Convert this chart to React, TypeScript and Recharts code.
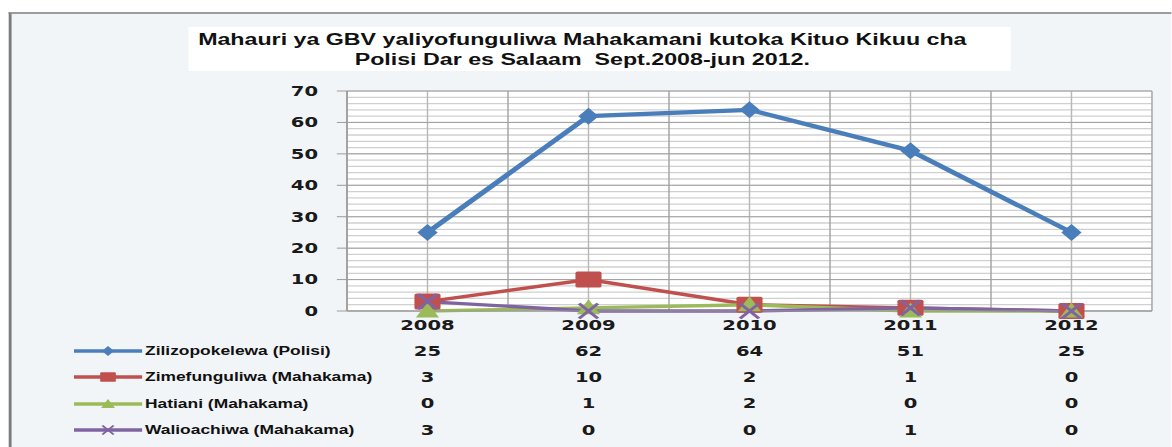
import { LineChart, Line, XAxis, YAxis, CartesianGrid } from "recharts";

// the reference picture is stretched sideways, so the whole chart is drawn narrow and widened
const STRETCH = 1.45;
const W = 1172 / STRETCH;
const H = 447;
const PLOT = { left: 347 / STRETCH, right: 1152 / STRETCH, top: 91, bottom: 311 };
const PAD = (PLOT.right - PLOT.left) / 10;

const years = ["2008", "2009", "2010", "2011", "2012"];
const zilizopokelewa = [25, 62, 64, 51, 25];
const zimefunguliwa = [3, 10, 2, 1, 0];
const hatiani = [0, 1, 2, 0, 0];
const walioachiwa = [3, 0, 0, 1, 0];

const Y_MAX = 70;
const yTicks = [0, 10, 20, 30, 40, 50, 60, 70];
const minorY = Array.from({ length: 36 }, (_, i) => i * 2);

const titleLines = [
  "Mahauri ya GBV yaliyofunguliwa Mahakamani kutoka Kituo Kikuu cha",
  "Polisi Dar es Salaam  Sept.2008-jun 2012.",
];

type Shape = "diamond" | "square" | "triangle" | "x";

const series: { key: string; name: string; color: string; shape: Shape; values: number[]; width: number }[] = [
  { key: "zilizopokelewa", name: "Zilizopokelewa (Polisi)", color: "#4a7ebb", shape: "diamond", values: zilizopokelewa, width: 4.2 },
  { key: "zimefunguliwa", name: "Zimefunguliwa (Mahakama)", color: "#c0504d", shape: "square", values: zimefunguliwa, width: 3.4 },
  { key: "hatiani", name: "Hatiani (Mahakama)", color: "#9bbb59", shape: "triangle", values: hatiani, width: 3.4 },
  { key: "walioachiwa", name: "Walioachiwa (Mahakama)", color: "#8064a2", shape: "x", values: walioachiwa, width: 3.4 },
];

const data = years.map((year, i) => {
  const row: Record<string, string | number> = { year };
  series.forEach((s) => (row[s.key] = s.values[i]));
  return row;
});

const numFont = { fontFamily: "'DejaVu Sans', Verdana, sans-serif", fontWeight: 700, fontSize: 13.5, fill: "#1a1a1a" };

function Marker({ shape, cx, cy, color, k = 1 }: { shape: Shape; cx: number; cy: number; color: string; k?: number }) {
  if (shape === "diamond") {
    return (
      <polygon
        points={`${cx},${cy - 8.5 * k} ${cx + 7 * k},${cy} ${cx},${cy + 8.5 * k} ${cx - 7 * k},${cy}`}
        fill={color}
      />
    );
  }
  if (shape === "square") {
    return <rect x={cx - 9 * k} y={cy - 8 * k} width={18 * k} height={16 * k} rx={1.5 * k} fill={color} />;
  }
  if (shape === "triangle") {
    return <polygon points={`${cx},${cy - 8.5 * k} ${cx + 8 * k},${cy + 6.5 * k} ${cx - 8 * k},${cy + 6.5 * k}`} fill={color} />;
  }
  return (
    <g stroke={color} strokeWidth={2.6 * k}>
      <line x1={cx - 6.5 * k} y1={cy - 7.5 * k} x2={cx + 6.5 * k} y2={cy + 7.5 * k} />
      <line x1={cx - 6.5 * k} y1={cy + 7.5 * k} x2={cx + 6.5 * k} y2={cy - 7.5 * k} />
    </g>
  );
}

function YTick({ x, y, payload }: any) {
  return (
    <text x={x} y={y} textAnchor="end" dominantBaseline="central" {...numFont}>
      {payload.value}
    </text>
  );
}

// year label plus the data table column underneath it
function YearTick({ x, y, payload }: any) {
  const i = years.indexOf(String(payload.value));
  return (
    <g>
      <text x={x} y={y + 14} textAnchor="middle" dominantBaseline="central" {...numFont}>
        {payload.value}
      </text>
      {series.map((s, r) => (
        <text key={s.key} x={x} y={y + 40 + r * 26.3} textAnchor="middle" dominantBaseline="central" {...numFont}>
          {s.values[i]}
        </text>
      ))}
    </g>
  );
}

function plotBox(offset: any) {
  return {
    left: offset?.left ?? PLOT.left,
    top: offset?.top ?? PLOT.top,
    width: offset?.width ?? PLOT.right - PLOT.left,
    height: offset?.height ?? PLOT.bottom - PLOT.top,
  };
}

const yPixels = (values: number[]) => ({ offset }: any) => {
  const b = plotBox(offset);
  return values.map((v) => b.top + b.height * (1 - v / Y_MAX));
};

// category centres, and the band edges half a step either side
const xPixels = (edges: boolean) => ({ offset }: any) => {
  const b = plotBox(offset);
  const step = (b.width - 2 * PAD) / (years.length - 1);
  const centres = years.map((_, i) => b.left + PAD + i * step);
  return edges ? [centres[0] - step / 2, ...centres.map((c) => c + step / 2)] : centres;
};

export default function App() {
  return (
    <div
      style={{
        position: "absolute",
        left: 0,
        top: 0,
        width: W,
        height: H,
        background: "#fff",
        overflow: "hidden",
        transform: `scaleX(${STRETCH})`,
        transformOrigin: "0 0",
      }}
    >
      <div
        style={{
          position: "absolute",
          left: 8 / STRETCH,
          top: 12,
          right: 0,
          bottom: 0,
          background: "#f2f5f8",
          borderTop: "2px solid #9c9c9c",
          borderLeft: `${3.5 / STRETCH}px solid #7d7d7d`,
        }}
      />
      <div
        style={{
          position: "absolute",
          left: 188 / STRETCH,
          top: 27,
          width: 822 / STRETCH,
          height: 44,
          background: "#fff",
          boxSizing: "border-box",
          paddingTop: 3,
          paddingRight: 23,
          textAlign: "center",
          fontFamily: "'Liberation Sans', Arial, sans-serif",
          fontWeight: 700,
          fontSize: 16,
          lineHeight: "20px",
          color: "#111",
          whiteSpace: "pre",
        }}
      >
        {titleLines.map((t) => (
          <div key={t}>{t}</div>
        ))}
      </div>

      <div style={{ position: "absolute", left: 0, top: 0 }}>
        <LineChart
          width={W}
          height={H}
          data={data}
          margin={{ top: PLOT.top, right: W - PLOT.right, bottom: 0, left: PLOT.left - 50 }}
        >
          <CartesianGrid
            fill="#fff"
            stroke="#d0d0d0"
            strokeWidth={1.3}
            vertical={false}
            horizontalCoordinatesGenerator={yPixels(minorY)}
          />
          <CartesianGrid stroke="#b8b8b8" horizontal={false} verticalCoordinatesGenerator={xPixels(false)} />
          <CartesianGrid
            stroke="#a3a3a3"
            horizontalCoordinatesGenerator={yPixels(yTicks)}
            verticalCoordinatesGenerator={xPixels(true)}
          />
          <XAxis
            dataKey="year"
            height={H - PLOT.bottom}
            interval={0}
            tickSize={0}
            tickMargin={0}
            tickLine={false}
            axisLine={{ stroke: "#9a9a9a" }}
            padding={{ left: PAD, right: PAD }}
            tick={<YearTick />}
          />
          <YAxis
            width={50}
            domain={[0, Y_MAX]}
            ticks={yTicks}
            interval={0}
            tickSize={7}
            tickMargin={13}
            stroke="#9a9a9a"
            tick={<YTick />}
          />
          {series.map((s) => (
            <Line
              key={s.key}
              dataKey={s.key}
              name={s.name}
              type="linear"
              stroke={s.color}
              strokeWidth={s.width}
              isAnimationActive={false}
              dot={(p: any) => <Marker key={`${s.key}-${p.index}`} shape={s.shape} cx={p.cx} cy={p.cy} color={s.color} />}
              activeDot={false}
            />
          ))}
        </LineChart>
      </div>

      <div style={{ position: "absolute", left: 51, top: 351 - 13 }}>
        {series.map((s) => (
          <div key={s.key} style={{ height: 26.3, display: "flex", alignItems: "center" }}>
            <svg width={48} height={16} style={{ display: "block" }}>
              <line x1={0} y1={8} x2={47} y2={8} stroke={s.color} strokeWidth={3.5} />
              <Marker shape={s.shape} cx={23.5} cy={8} color={s.color} k={0.6} />
            </svg>
            <span
              style={{
                marginLeft: 1,
                fontFamily: "'Liberation Sans', Arial, sans-serif",
                fontWeight: 700,
                fontSize: 12,
                color: "#111",
                whiteSpace: "pre",
              }}
            >
              {s.name}
            </span>
          </div>
        ))}
      </div>
    </div>
  );
}
